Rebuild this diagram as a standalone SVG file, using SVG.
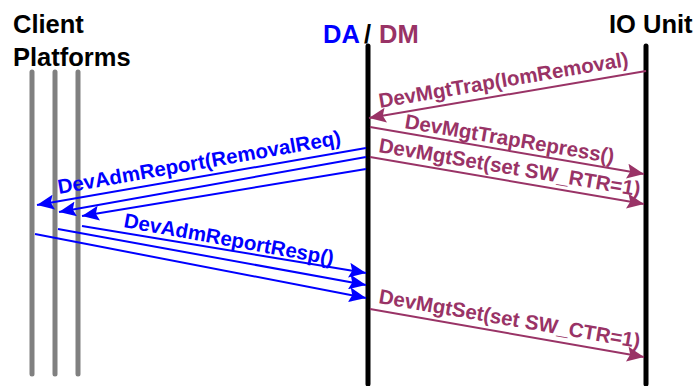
<svg xmlns="http://www.w3.org/2000/svg" width="700" height="386" viewBox="0 0 700 386">
<defs>
<style>
.t{font-family:"Liberation Sans",Arial,sans-serif;font-weight:bold}
.title{font-size:25.5px;fill:#000}
.lbl{font-size:20.5px}
.blue{fill:#0000FF}
.purp{fill:#993366}
.gray{stroke:#808080;stroke-width:5;stroke-linecap:round;fill:none}
.life{stroke:#000;stroke-width:5;stroke-linecap:round;fill:none}
.cb{stroke:#0000FF;stroke-width:2;fill:none;marker-end:url(#ab)}
.cp{stroke:#993366;stroke-width:2;fill:none;marker-end:url(#ap)}
</style>
<marker id="ab" markerUnits="userSpaceOnUse" markerWidth="18" markerHeight="15" refX="17" refY="7.5" orient="auto"><path d="M0,0 L17,7.5 L0,15 L3,7.5 z" fill="#0000FF"/></marker>
<marker id="ap" markerUnits="userSpaceOnUse" markerWidth="18" markerHeight="15" refX="17" refY="7.5" orient="auto"><path d="M0,0 L17,7.5 L0,15 L3,7.5 z" fill="#993366"/></marker>
</defs>
<rect width="700" height="386" fill="#fff"/>
<g id="client-platforms">
<text class="t title" x="13" y="33">Client</text>
<text class="t title" x="13" y="66">Platforms</text>
<line class="gray" x1="32" y1="72" x2="32" y2="374"/>
<line class="gray" x1="55" y1="72" x2="55" y2="374"/>
<line class="gray" x1="78" y1="72" x2="78" y2="374"/>
</g>
<g id="da-dm">
<text class="t title" y="43"><tspan class="blue" x="323">DA</tspan><tspan x="364">/</tspan><tspan class="purp" x="379">DM</tspan></text>
<line class="life" x1="368" y1="46" x2="368" y2="384"/>
</g>
<g id="io-unit">
<text class="t title" x="609" y="33">IO Unit</text>
<line class="life" x1="646" y1="46" x2="646" y2="384"/>
</g>
<g id="connectors">
<line class="cp" x1="646" y1="71" x2="369" y2="118"/>
<line class="cp" x1="370" y1="127" x2="644" y2="174"/>
<line class="cp" x1="370" y1="157" x2="644" y2="204"/>
<line class="cp" x1="370" y1="309" x2="644" y2="357"/>
<line class="cb" x1="366" y1="148" x2="37" y2="205"/>
<line class="cb" x1="366" y1="157" x2="59" y2="212"/>
<line class="cb" x1="366" y1="169" x2="82" y2="216"/>
<line class="cb" x1="82" y1="226" x2="366" y2="273"/>
<line class="cb" x1="58" y1="229" x2="366" y2="285"/>
<line class="cb" x1="35" y1="234" x2="366" y2="298"/>
<text class="t lbl purp" transform="translate(380,108) rotate(-9.6)">DevMgtTrap(IomRemoval)</text>
<text class="t lbl purp" transform="translate(404,128) rotate(9.6)">DevMgtTrapRepress()</text>
<text class="t lbl purp" transform="translate(378,152) rotate(9.6)">DevMgtSet(set SW_RTR=1)</text>
<text class="t lbl purp" transform="translate(378,303) rotate(9.8)">DevMgtSet(set SW_CTR=1)</text>
<text class="t lbl blue" transform="translate(59,194) rotate(-10)">DevAdmReport(RemovalReq)</text>
<text class="t lbl blue" transform="translate(123,227) rotate(10.3)">DevAdmReportResp()</text>
</g>
</svg>
